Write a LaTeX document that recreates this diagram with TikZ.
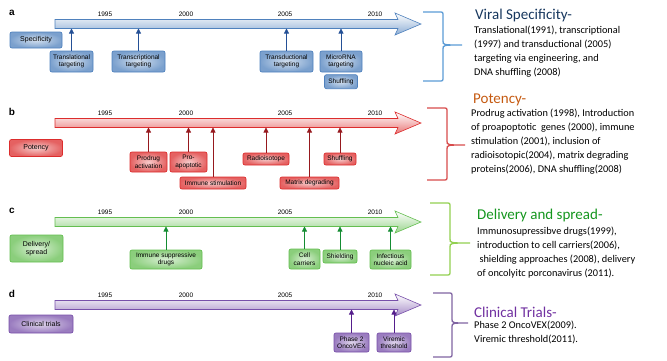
\documentclass[tikz,border=0pt]{standalone}
\usepackage{fontspec}
\setmainfont{Carlito}
\newfontfamily\arialfont{Liberation Sans}
\definecolor{specblue}{RGB}{79,129,189}
\definecolor{specdark}{RGB}{36,80,150}
\definecolor{specbrace}{RGB}{91,155,213}
\definecolor{spectitle}{RGB}{23,55,94}
\definecolor{potred}{RGB}{220,45,45}
\definecolor{potdark}{RGB}{150,25,30}
\definecolor{potbrace}{RGB}{215,75,75}
\definecolor{pottitle}{RGB}{197,90,17}
\definecolor{delgreen}{RGB}{100,190,80}
\definecolor{deldark}{RGB}{20,140,50}
\definecolor{delbrace}{RGB}{146,208,80}
\definecolor{deltitle}{RGB}{20,150,30}
\definecolor{trialpurple}{RGB}{120,80,170}
\definecolor{trialdark}{RGB}{85,30,140}
\definecolor{trialbrace}{RGB}{128,100,162}
\definecolor{trialtitle}{RGB}{112,48,160}
\usetikzlibrary{shapes,arrows.meta,positioning,calc}

\tikzset{
    evbox/.style={draw=#1, line width=0.7pt, rounded corners=2pt, inner color=#1!25, outer color=#1!75,
        font=\arialfont\fontsize{6.5}{7.5}\selectfont, align=center, inner sep=1pt},
    catbox/.style={evbox=#1, font=\arialfont\fontsize{7}{8.5}\selectfont},
    evline/.style={draw=#1, line width=0.8pt, -{Triangle[length=5pt,width=5pt]}},
    yearlbl/.style={font=\arialfont\fontsize{6.5}{7}\selectfont},
    ttl/.style={anchor=west, inner sep=0pt, font=\fontsize{15}{17}\selectfont},
    body/.style={anchor=north west, inner sep=0pt, align=left, font=\fontsize{10.3}{13.9}\selectfont},
    bracket/.style={draw=#1, line width=1.3pt}
}

\begin{document}
\begin{tikzpicture}[x=1pt, y=-1pt]
    \useasboundingbox (0,0) rectangle (667,360);

    \foreach \clr/\yc/\lbl in {specblue/24/a, potred/123/b, delgreen/222/c, trialpurple/305/d}{
        \path[draw=\clr, line width=0.6pt, top color=white, bottom color=\clr!65]
            (55,\yc-4.5) -- (398,\yc-4.5) -- (395,\yc-11) -- (421,\yc) -- (395,\yc+11) -- (398,\yc+4.5) -- (55,\yc+4.5) -- cycle;
        \node[font=\arialfont\bfseries\fontsize{10}{10}\selectfont] (lbl-\lbl) at (12,\yc-11) {\lbl};
        \foreach \yr/\px in {1995/105,2000/186,2005/285,2010/375}
            \node[yearlbl] (yr-\lbl-\yr) at (\px,\yc-9.5) {\yr};
        \coordinate (\lbl-bot) at (0,\yc+4.5);
    }

    % a: specificity
    \node[catbox=specblue, minimum width=52pt, minimum height=16pt] (spec) at (36,40) {Specificity};
    \node[evbox=specblue, minimum width=43pt, minimum height=21pt] (tl) at (71.5,61.5) {Translational\\targeting};
    \node[evbox=specblue, minimum width=53pt, minimum height=21pt] (tc) at (138.5,61.5) {Transcriptional\\targeting};
    \node[evbox=specblue, minimum width=53pt, minimum height=21pt] (td) at (286.5,61.5) {Transductional\\targeting};
    \node[evbox=specblue, minimum width=42pt, minimum height=21pt] (mr) at (341,61.5) {MicroRNA\\targeting};
    \node[evbox=specblue, minimum width=33pt, minimum height=14pt, below=2pt of mr] (shuf-a) {Shuffling};
    \foreach \n in {tl,tc,td,mr}
        \draw[evline=specdark] (\n) -- (\n |- a-bot);

    % b: potency
    \node[catbox=potred, minimum width=53pt, minimum height=17pt] (pot) at (36,148) {Potency};
    \node[evbox=potred, minimum width=37pt, minimum height=20pt] (prod) at (148.5,162) {Prodrug\\activation};
    \node[evbox=potred, minimum width=37pt, minimum height=20pt] (proap) at (188.5,162) {Pro-\\apoptotic};
    \node[evbox=potred, minimum width=66pt, minimum height=12pt] (imst) at (213,183) {Immune stimulation};
    \node[evbox=potred, minimum width=46pt, minimum height=12pt] (radio) at (266,159) {Radioisotope};
    \node[evbox=potred, minimum width=59pt, minimum height=12pt] (matrix) at (309.5,183) {Matrix degrading};
    \node[evbox=potred, minimum width=32pt, minimum height=12pt] (shuf-b) at (340,159) {Shuffling};
    \foreach \n in {prod,proap,imst,radio,matrix,shuf-b}
        \draw[evline=potdark] (\n) -- (\n |- b-bot);

    % c: delivery
    \node[catbox=delgreen, minimum width=53pt, minimum height=27pt] (deliv) at (36.5,248.5) {Delivery/\\spread};
    \node[evbox=delgreen, minimum width=72pt, minimum height=19pt] (imsup) at (166,259.5) {Immune suppressive\\drugs};
    \node[evbox=delgreen, minimum width=31pt, minimum height=20pt] (cell) at (304.5,259) {Cell\\carriers};
    \node[evbox=delgreen, minimum width=34pt, minimum height=13pt] (shield) at (340,256.5) {Shielding};
    \node[evbox=delgreen, minimum width=41pt, minimum height=19pt] (infect) at (390.5,259.5) {Infectious\\nucleic acid};
    \foreach \n in {imsup,cell,shield,infect}
        \draw[evline=deldark] (\n) -- (\n |- c-bot);

    % d: clinical trials
    \node[catbox=trialpurple, minimum width=64pt, minimum height=18pt] (clin) at (41,324) {Clinical trials};
    \node[evbox=trialpurple, minimum width=35pt, minimum height=19pt] (phase) at (351.5,342.5) {Phase 2\\OncoVEX};
    \node[evbox=trialpurple, minimum width=34pt, minimum height=19pt] (vir) at (394,342.5) {Viremic\\threshold};
    \foreach \n in {phase,vir}
        \draw[evline=trialdark] (\n) -- (\n |- d-bot);

    % braces
    \foreach \clr/\xl/\xv/\xt/\ya/\ym/\yb in {specbrace/423/443/462/12/45/81, potbrace/427/447/465/108/145/180,
                                                delbrace/430/450/470/203/243/275, trialbrace/433/452/468/293/323/357}
        \draw[bracket=\clr] (\xl,\ya) -- (\xv-4,\ya) .. controls (\xv,\ya) .. (\xv,\ya+4) -- (\xv,\ym-4)
            .. controls (\xv,\ym) .. (\xt,\ym) .. controls (\xv,\ym) .. (\xv,\ym+4) -- (\xv,\yb-4)
            .. controls (\xv,\yb) .. (\xv-4,\yb) -- (\xl,\yb);

    % texts
    \node[ttl, text=spectitle] (ttl-a) at (475,15) {Viral Specificity-};
    \node[body] (txt-a) at (474,26) {Translational(1991), transcriptional\\(1997) and transductional (2005)\\targeting via engineering, and\\DNA shuffling (2008)};
    \node[ttl, text=pottitle] (ttl-b) at (473,100) {Potency-};
    \node[body] (txt-b) at (471,109) {Prodrug activation (1998), Introduction\\of proapoptotic\ \ genes (2000), immune\\stimulation (2001), inclusion of\\radioisotopic(2004), matrix degrading\\proteins(2006), DNA shuffling(2008)};
    \node[ttl, text=deltitle] (ttl-c) at (477,215) {Delivery and spread-};
    \node[body] (txt-c) at (477,227) {Immunosupressibve drugs(1999),\\introduction to cell carriers(2006),\\\ shielding approaches (2008), delivery\\of oncolyitc porconavirus (2011).};
    \node[ttl, text=trialtitle] (ttl-d) at (474,312) {Clinical Trials-};
    \node[body] (txt-d) at (474,321) {Phase 2 OncoVEX(2009).\\Viremic threshold(2011).};
\end{tikzpicture}
\end{document}
